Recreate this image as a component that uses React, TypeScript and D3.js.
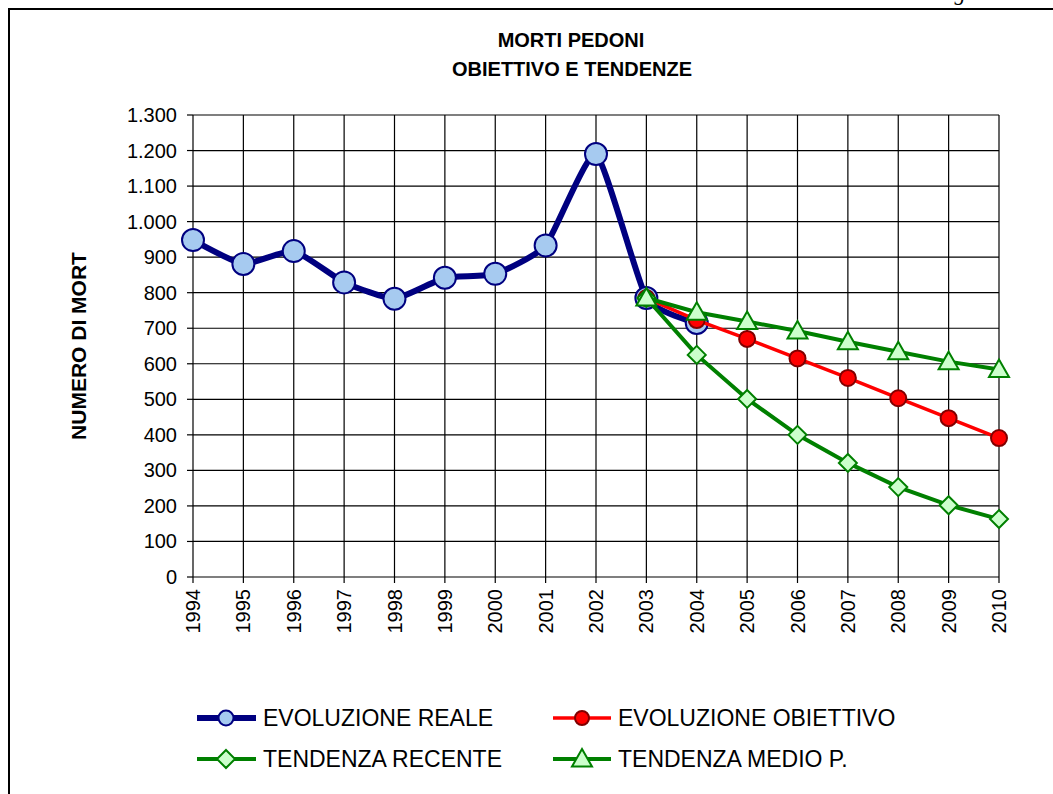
import React from "react";
import * as d3 from "d3";

const years = [1994, 1995, 1996, 1997, 1998, 1999, 2000, 2001, 2002, 2003, 2004, 2005, 2006, 2007, 2008, 2009, 2010];
const realeYears = [1994, 1995, 1996, 1997, 1998, 1999, 2000, 2001, 2002, 2003, 2004];
const realeValues = [948, 881, 917, 829, 783, 842, 853, 933, 1190, 785, 715];
const trendYears = [2003, 2004, 2005, 2006, 2007, 2008, 2009, 2010];
const obiettivoValues = [785, 723, 670, 615, 560, 503, 447, 391];
const recenteValues = [785, 625, 501, 400, 321, 253, 202, 163];
const medioValues = [785, 745, 719, 692, 662, 634, 606, 584];
const yTicks = [0, 100, 200, 300, 400, 500, 600, 700, 800, 900, 1000, 1100, 1200, 1300];
const yTickLabels = ["0", "100", "200", "300", "400", "500", "600", "700", "800", "900", "1.000", "1.100", "1.200", "1.300"];

const FONT = "'Liberation Sans', Arial, sans-serif";

const x = d3.scaleLinear().domain([1994, 2010]).range([193, 999]);
const y = d3.scaleLinear().domain([0, 1300]).range([577, 115]);

const BLUE = "#000080";
const BLUE_FILL = "#a6caf0";
const RED = "#ff0000";
const RED_STROKE = "#800000";
const GREEN = "#008000";
const GREEN_FILL = "#ccffcc";

function Circle({ cx, cy, r, fill, stroke }: any) {
  return <circle cx={cx} cy={cy} r={r} fill={fill} stroke={stroke} strokeWidth={2} />;
}
function Diamond({ cx, cy }: any) {
  const s = 9;
  return <path d={`M${cx},${cy - s}L${cx + s},${cy}L${cx},${cy + s}L${cx - s},${cy}Z`} fill={GREEN_FILL} stroke={GREEN} strokeWidth={2} />;
}
function Triangle({ cx, cy }: any) {
  const s = 10;
  return <path d={`M${cx},${cy - s}L${cx + s},${cy + s * 0.75}L${cx - s},${cy + s * 0.75}Z`} fill={GREEN_FILL} stroke={GREEN} strokeWidth={2} strokeLinejoin="miter" />;
}

export default function App() {
  const smooth = d3.line<number>().x((_, i) => x(realeYears[i])).y((d) => y(d)).curve(d3.curveCardinal.tension(0.5));
  const straight = (vals: number[]) => d3.line<number>().x((_, i) => x(trendYears[i])).y((d) => y(d))(vals) as string;

  const legendRow1 = 718;
  const legendRow2 = 759;

  return (
    <svg width={1053} height={794} style={{ position: "absolute", left: 0, top: 0, background: "#fff" }}>
      <rect x={0} y={0} width={1053} height={794} fill="#fff" />
      {/* page header remnant */}
      <text x={1010} y={0} textAnchor="end" fontFamily="'Liberation Serif', serif" fontStyle="italic" fontSize={22} fill="#000">Pagina 3</text>
      {/* frame */}
      <line x1={8} x2={1053} y1={9} y2={9} stroke="#000" strokeWidth={2} />
      <line x1={9} x2={9} y1={8} y2={794} stroke="#000" strokeWidth={2} />

      {/* title */}
      <text x={571} y={47} textAnchor="middle" fontFamily={FONT} fontWeight="bold" fontSize={20} fill="#000">MORTI PEDONI</text>
      <text x={572} y={76} textAnchor="middle" fontFamily={FONT} fontWeight="bold" fontSize={20} fill="#000">OBIETTIVO E TENDENZE</text>

      {/* y axis title */}
      <text transform={`translate(86,346) rotate(-90)`} textAnchor="middle" fontFamily={FONT} fontWeight="bold" fontSize={21} fill="#000">NUMERO DI MORT</text>

      {/* grid */}
      {yTicks.map((t) => (
        <line key={"h" + t} x1={x(1994)} x2={x(2010)} y1={y(t)} y2={y(t)} stroke="#000" strokeWidth={1.2} />
      ))}
      {years.map((yr) => (
        <line key={"v" + yr} x1={x(yr)} x2={x(yr)} y1={y(1300)} y2={y(0)} stroke="#000" strokeWidth={1.2} />
      ))}
      {/* ticks */}
      {yTicks.map((t) => (
        <line key={"yt" + t} x1={x(1994) - 6} x2={x(1994)} y1={y(t)} y2={y(t)} stroke="#000" strokeWidth={1.2} />
      ))}
      {years.map((yr) => (
        <line key={"xt" + yr} x1={x(yr)} x2={x(yr)} y1={y(0)} y2={y(0) + 6} stroke="#000" strokeWidth={1.2} />
      ))}
      {yTicks.map((t, i) => (
        <text key={"yl" + t} x={177} y={y(t)} dy="0.35em" textAnchor="end" fontFamily={FONT} fontSize={20} fill="#000">{yTickLabels[i]}</text>
      ))}
      {years.map((yr) => (
        <text key={"xl" + yr} transform={`translate(${x(yr)},589) rotate(-90)`} dy="0.35em" textAnchor="end" fontFamily={FONT} fontSize={20} fill="#000">{yr}</text>
      ))}

      {/* series: reale */}
      <path d={smooth(realeValues) as string} fill="none" stroke={BLUE} strokeWidth={6} strokeLinejoin="round" />
      {realeValues.map((v, i) => (
        <Circle key={"r" + i} cx={x(realeYears[i])} cy={y(v)} r={11} fill={BLUE_FILL} stroke={BLUE} />
      ))}
      {/* obiettivo */}
      <path d={straight(obiettivoValues)} fill="none" stroke={RED} strokeWidth={3.5} />
      {obiettivoValues.map((v, i) => (
        <Circle key={"o" + i} cx={x(trendYears[i])} cy={y(v)} r={8} fill={RED} stroke={RED_STROKE} />
      ))}
      {/* recente */}
      <path d={straight(recenteValues)} fill="none" stroke={GREEN} strokeWidth={4} />
      {recenteValues.map((v, i) => (
        <Diamond key={"d" + i} cx={x(trendYears[i])} cy={y(v)} />
      ))}
      {/* medio */}
      <path d={straight(medioValues)} fill="none" stroke={GREEN} strokeWidth={4} />
      {medioValues.map((v, i) => (
        <Triangle key={"t" + i} cx={x(trendYears[i])} cy={y(v)} />
      ))}

      {/* legend */}
      <line x1={197} x2={256} y1={legendRow1} y2={legendRow1} stroke={BLUE} strokeWidth={6} />
      <Circle cx={226} cy={legendRow1} r={7.5} fill={BLUE_FILL} stroke={BLUE} />
      <text x={263} y={legendRow1} dy="0.35em" fontFamily={FONT} fontSize={23} fill="#000">EVOLUZIONE REALE</text>

      <line x1={553} x2={611} y1={legendRow1} y2={legendRow1} stroke={RED} strokeWidth={3.5} />
      <Circle cx={582} cy={legendRow1} r={7} fill={RED} stroke={RED_STROKE} />
      <text x={618} y={legendRow1} dy="0.35em" fontFamily={FONT} fontSize={23} fill="#000">EVOLUZIONE OBIETTIVO</text>

      <line x1={197} x2={256} y1={legendRow2} y2={legendRow2} stroke={GREEN} strokeWidth={4} />
      <Diamond cx={226} cy={legendRow2} />
      <text x={263} y={legendRow2} dy="0.35em" fontFamily={FONT} fontSize={23} fill="#000">TENDENZA RECENTE</text>

      <line x1={553} x2={611} y1={legendRow2} y2={legendRow2} stroke={GREEN} strokeWidth={4} />
      <Triangle cx={582} cy={legendRow2} />
      <text x={618} y={legendRow2} dy="0.35em" fontFamily={FONT} fontSize={23} fill="#000">TENDENZA MEDIO P.</text>
    </svg>
  );
}
